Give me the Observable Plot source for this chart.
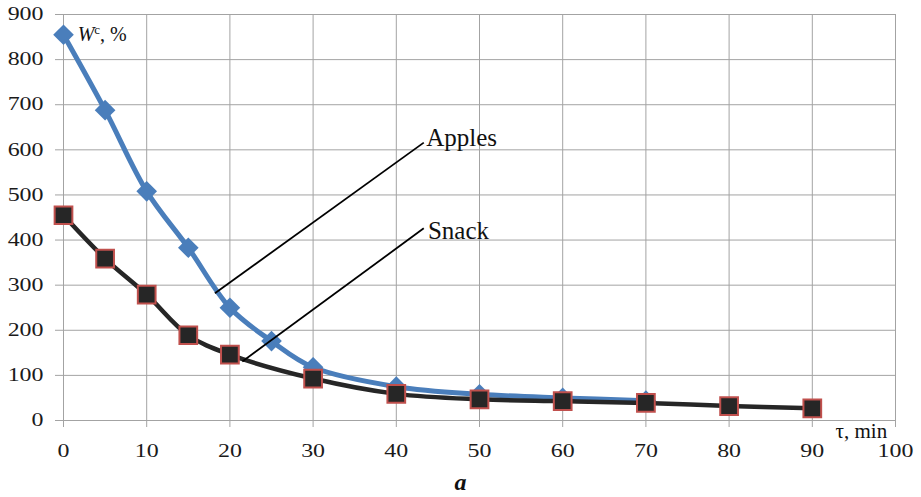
<!DOCTYPE html>
<html>
<head>
<meta charset="utf-8">
<script src="https://cdn.jsdelivr.net/npm/d3@7"></script>
<script src="https://cdn.jsdelivr.net/npm/@observablehq/plot@0.6"></script>
<style>
  body { margin: 0; background: #fff; }
  #chart { width: 921px; height: 466px; }
  #chart svg, #chart svg text, #chart svg tspan {
    font-family: "Liberation Serif", "Times New Roman", serif !important;
  }
  #cap {
    width: 921px; height: 28px; padding-top: 3px;
    text-align: center; line-height: 31px;
    font: italic bold 24px "Liberation Serif", "Times New Roman", serif;
    color: #111;
  }
</style>
</head>
<body>
<div id="chart"></div>
<div id="cap"></div>
<script>
// Moisture content W^c (%) against drying time τ (min)
const applesTime = [0, 5, 10, 15, 20, 25, 30, 40, 50, 60, 70];
const applesW    = [855, 688, 508, 383, 250, 176, 118, 75, 58, 50, 44];
const snackTime  = [0, 5, 10, 15, 20, 30, 40, 50, 60, 70, 80, 90];
const snackW     = [455, 359, 279, 189, 146, 93, 59, 47, 43, 39, 32, 27];

const xTicks = [0, 10, 20, 30, 40, 50, 60, 70, 80, 90, 100];
const yTicks = [0, 100, 200, 300, 400, 500, 600, 700, 800, 900];

// Series labels with their leader lines (τ, W^c)
const seriesNames = ["Apples", "Snack"];
const leaderFrom  = [[18.2, 282], [21.5, 131]];
const leaderTo    = [[43.3, 616], [43.3, 426]];
const labelAt     = [[43.6, 627], [43.8, 419]];

const yTitleParts = ["W", "c", ", %"];
const yTitleAt = [1.7, 855];
const xTitle = "τ, min";
const xTitleAt = [95.9, -23];
const caption = "a";

const apples = applesTime.map((t, i) => ({t, w: applesW[i]}));
const snack = snackTime.map((t, i) => ({t, w: snackW[i]}));
const leaders = seriesNames.map((name, i) => ({
  name,
  x1: leaderFrom[i][0], y1: leaderFrom[i][1],
  x2: leaderTo[i][0], y2: leaderTo[i][1],
  lx: labelAt[i][0], ly: labelAt[i][1]
}));

const gridColor = "#a3a3a3";
const blue = "#4a7ebb";
const dark = "#262626";
const red = "#c0504d";

const plot = Plot.plot({
  width: 921,
  height: 466,
  marginTop: 14,
  marginLeft: 63,
  marginRight: 26,
  marginBottom: 46,
  style: {
    fontFamily: '"Liberation Serif", "Times New Roman", serif',
    color: "#1a1a1a",
    background: "#fff",
    overflow: "visible"
  },
  x: {domain: [0, 100]},
  y: {domain: [0, 900]},
  marks: [
    Plot.gridX(xTicks, {stroke: gridColor, strokeOpacity: 1, strokeWidth: 1}),
    Plot.gridY(yTicks, {stroke: gridColor, strokeOpacity: 1, strokeWidth: 1}),
    Plot.axisX(xTicks, {tickSize: 7, tickPadding: 17, fontSize: 18, color: "#1a1a1a", stroke: gridColor, label: null, tickFormat: d => String(d)}),
    Plot.axisY(yTicks, {tickSize: 8, tickPadding: 12, fontSize: 18, color: "#1a1a1a", stroke: gridColor, label: null, tickFormat: d => String(d)}),

    // Apples
    Plot.line(apples, {x: "t", y: "w", stroke: blue, strokeWidth: 5, curve: "catmull-rom"}),
    Plot.dot(apples, {x: "t", y: "w", symbol: "diamond2", r: 9.3, fill: blue, stroke: "none"}),

    // Snack
    Plot.line(snack, {x: "t", y: "w", stroke: dark, strokeWidth: 4.5, curve: "catmull-rom"}),
    Plot.dot(snack, {x: "t", y: "w", symbol: "square", r: 10, fill: dark, stroke: red, strokeWidth: 2}),

    // Leader lines and series names
    Plot.link(leaders, {x1: "x1", y1: "y1", x2: "x2", y2: "y2", stroke: "#000", strokeWidth: 1.8}),
    Plot.text(leaders, {x: "lx", y: "ly", text: "name", textAnchor: "start", fontSize: 25, fill: "#111"}),

    // Axis titles
    Plot.text([yTitleParts.join("")], {x: () => yTitleAt[0], y: () => yTitleAt[1], text: d => d, textAnchor: "start", fontSize: 20, fill: "#111"}),
    Plot.text([xTitle], {x: () => xTitleAt[0], y: () => xTitleAt[1], text: d => d, textAnchor: "middle", fontSize: 21, fill: "#111"})
  ]
});

// Widen the tick numerals
d3.select(plot).selectAll('g[aria-label$="tick label"] text').each(function () {
  const tr = this.getAttribute("transform");
  if (tr) {
    this.setAttribute("transform", tr + " scale(1.33,1)");
  } else {
    const x = +(this.getAttribute("x") || 0), y = +(this.getAttribute("y") || 0);
    this.removeAttribute("x");
    this.removeAttribute("y");
    this.setAttribute("transform", `translate(${x},${y}) scale(1.33,1)`);
  }
});

// Italic W with superscript c
d3.select(plot).selectAll("text")
  .filter(function () { return this.textContent === yTitleParts.join(""); })
  .each(function () {
    const t = d3.select(this);
    t.text(null);
    t.append("tspan").attr("font-style", "italic").text(yTitleParts[0]);
    t.append("tspan").attr("font-size", "13px").attr("dy", -7).text(yTitleParts[1]);
    t.append("tspan").attr("dy", 7).text(yTitleParts[2]);
  });

document.getElementById("chart").appendChild(plot);
document.getElementById("cap").textContent = caption;
</script>
</body>
</html>
